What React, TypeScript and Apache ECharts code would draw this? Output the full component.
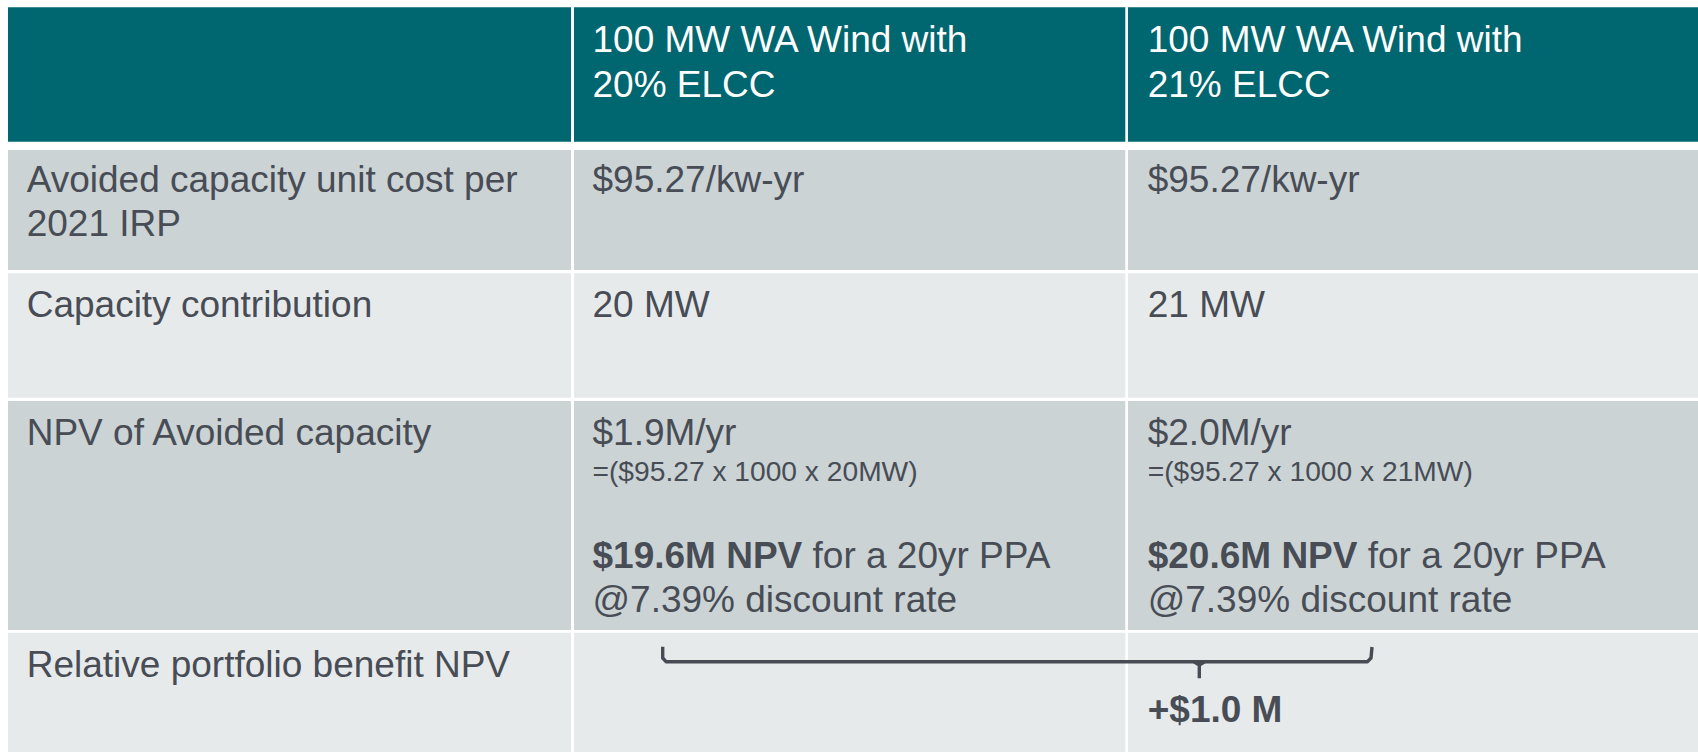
import React, { useEffect, useRef } from "react";
import * as echarts from "echarts";

// ---- table content ----
const columnHeaders: string[][] = [
  ["100 MW WA Wind with", "20% ELCC"],
  ["100 MW WA Wind with", "21% ELCC"],
];
const rowLabels: string[][] = [
  ["Avoided capacity unit cost per", "2021 IRP"],
  ["Capacity contribution"],
  ["NPV of Avoided capacity"],
  ["Relative portfolio benefit NPV"],
];
const unitCosts = ["$95.27/kw-yr", "$95.27/kw-yr"];
const capacityMW = ["20 MW", "21 MW"];
const annualValues = ["$1.9M/yr", "$2.0M/yr"];
const formulas = ["=($95.27 x 1000 x 20MW)", "=($95.27 x 1000 x 21MW)"];
const npvBold = ["$19.6M NPV", "$20.6M NPV"];
const npvRest = [" for a 20yr PPA", " for a 20yr PPA"];
const discountLines = ["@7.39% discount rate", "@7.39% discount rate"];
const benefitLabel = "+$1.0 M";

// ---- layout ----
const W = 1698;
const H = 752;
const FONT = "'Liberation Sans', Arial, sans-serif";
const TEAL = "#00666F";
const GRAY_DARK = "#CBD3D5";
const GRAY_LIGHT = "#E6EAEB";
const TEXT = "#484C55";
const colBounds = [
  [8, 571],
  [574, 1125.3],
  [1128, 1698],
];
const rowBounds = [
  [7.3, 141.7],
  [150, 270],
  [273.3, 397.7],
  [401, 630],
  [632.7, 752],
];
const rowFills = [TEAL, GRAY_DARK, GRAY_LIGHT, GRAY_DARK, GRAY_LIGHT];
const textX = [26.7, 592.5, 1147.7];

function txt(x: number, y: number, text: string, opts: any = {}) {
  return {
    type: "text",
    x,
    y,
    silent: true,
    style: {
      text,
      fill: opts.fill || TEXT,
      font: `${opts.bold ? "bold " : ""}${opts.size || 37}px ${FONT}`,
      fontFamily: FONT,
      fontSize: opts.size || 37,
      fontWeight: opts.bold ? "bold" : "normal",
      align: "left",
      verticalAlign: "middle",
    },
  };
}

export default function App() {
  const ref = useRef<HTMLDivElement>(null);
  useEffect(() => {
    if (!ref.current) return;
    const chart = echarts.init(ref.current, undefined, { renderer: "svg" });
    const els: any[] = [];
    els.push({ type: "rect", shape: { x: 0, y: 0, width: W, height: H }, style: { fill: "#ffffff" }, silent: true });
    rowBounds.forEach((rb, r) => {
      colBounds.forEach((cb) => {
        els.push({
          type: "rect",
          silent: true,
          shape: { x: cb[0], y: rb[0], width: cb[1] - cb[0], height: rb[1] - rb[0] },
          style: { fill: rowFills[r] },
        });
      });
    });

    // header
    const headerY = [39.5, 84];
    columnHeaders.forEach((lines, c) => {
      lines.forEach((l, i) => els.push(txt(textX[c + 1], headerY[i], l, { fill: "#ffffff" })));
    });

    // row labels
    const labelY = [[179, 223.5], [304.8], [432.5], [664.5]];
    rowLabels.forEach((lines, r) => {
      lines.forEach((l, i) => els.push(txt(textX[0], labelY[r][i], l)));
    });

    for (let c = 0; c < 2; c++) {
      const x = textX[c + 1];
      els.push(txt(x, 179, unitCosts[c]));
      els.push(txt(x, 304.8, capacityMW[c]));
      els.push(txt(x, 432.5, annualValues[c]));
      els.push(txt(x, 471.2, formulas[c], { size: 28.2 }));
      els.push({
        type: "text",
        x,
        y: 555.8,
        silent: true,
        style: {
          text: `{b|${npvBold[c]}}{n|${npvRest[c]}}`,
          align: "left",
          verticalAlign: "middle",
          fill: TEXT,
          fontFamily: FONT,
          fontSize: 37,
          rich: {
            b: { fontFamily: FONT, fontSize: 37, fontWeight: "bold", fill: TEXT, lineHeight: 44 },
            n: { fontFamily: FONT, fontSize: 37, fontWeight: "normal", fill: TEXT, lineHeight: 44 },
          },
        },
      });
      els.push(txt(x, 599, discountLines[c]));
    }

    // bracket
    const BR = "#474B53";
    const bw = 3.4;
    els.push({
      type: "polyline",
      silent: true,
      shape: {
        points: [
          [662.7, 646.7],
          [662.7, 658],
          [666, 661.7],
          [1367.5, 661.7],
          [1371, 658],
          [1372, 647],
        ],
      },
      style: { stroke: BR, lineWidth: bw, fill: "none", lineJoin: "round", lineCap: "butt" },
    });
    els.push({
      type: "polyline",
      silent: true,
      shape: {
        points: [
          [1194, 661.7],
          [1199.3, 665],
          [1199.3, 678.3],
        ],
      },
      style: { stroke: BR, lineWidth: bw, fill: "none", lineJoin: "round" },
    });
    els.push({
      type: "polyline",
      silent: true,
      shape: {
        points: [
          [1204.6, 661.7],
          [1199.3, 665],
        ],
      },
      style: { stroke: BR, lineWidth: bw, fill: "none", lineJoin: "round" },
    });
    els.push(txt(textX[2], 709, benefitLabel, { bold: true }));

    chart.setOption({
      animation: false,
      backgroundColor: "#ffffff",
      graphic: { elements: els },
    });
    return () => chart.dispose();
  }, []);
  return (
    <div
      ref={ref}
      style={{ position: "fixed", left: 0, top: 0, width: W, height: H, background: "#ffffff" }}
    />
  );
}
